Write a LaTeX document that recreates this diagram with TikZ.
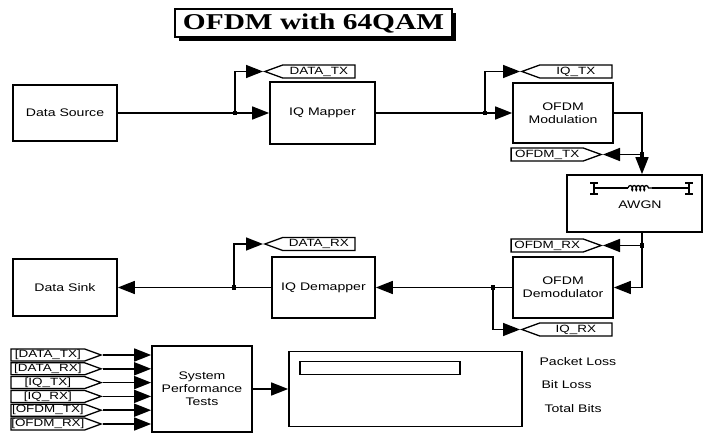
\documentclass[tikz,border=0pt]{standalone}
\usepackage{fontspec}
\setmainfont{Liberation Sans}[FakeStretch=1.28]
\newfontfamily\titlefont{Liberation Serif}[FakeStretch=1.3]
\usetikzlibrary{arrows.meta, shapes.symbols, shadows, decorations.pathmorphing}

\tikzset{
  block/.style={draw, line width=1.7pt, align=center, inner sep=0pt, font=\fontsize{11}{13}\selectfont},
  tag/.style={draw, signal, signal pointer angle=40, line width=1.3pt, minimum width=90pt, minimum height=13pt, inner sep=0pt, font=\fontsize{10.5}{11}\selectfont},
  sig/.style={line width=1.6pt, -{Triangle[length=17pt, width=13pt]}},
  wire/.style={line width=1.3pt},
  joint/.style={fill, minimum size=4.5pt, inner sep=0pt}
}

\begin{document}
\begin{tikzpicture}[x=1pt, y=-1pt]
\useasboundingbox (0,0) rectangle (704,435);

% title
\node[draw, line width=1.3pt, fill=white, minimum width=277pt, minimum height=28pt, inner sep=0pt,
  drop shadow={shadow xshift=4pt, shadow yshift=-4pt, fill=black, opacity=1},
  font=\titlefont\bfseries\fontsize{22.6}{24}\selectfont] (title) at (313.5,23) {OFDM with 64QAM};

% transmitter
\node[block, minimum width=104pt, minimum height=56pt] (src) at (65,113) {Data Source};
\node[block, minimum width=105pt, minimum height=62pt] (map) at (322.5,113) {IQ Mapper};
\node[block, minimum width=100pt, minimum height=60pt] (mod) at (563,113) {OFDM\\Modulation};

% channel
\node[block, minimum width=135pt, minimum height=57pt] (awgn) at (634.5,203.5) {};
\node[font=\fontsize{11}{13}\selectfont] (awgnlbl) at (640,205) {AWGN};
\draw[wire] (594,188) -- (628,188);
\draw[wire, decorate, decoration={coil, segment length=4pt, amplitude=2.5pt}] (628,188) -- (652,188);
\draw[wire] (652,188) -- (689,188);
\draw[wire] (590,183) -- (598,183) (594,183) -- (594,194) (590,194) -- (598,194);
\draw[wire] (685,183) -- (693,183) (689,183) -- (689,194) (685,194) -- (693,194);

% receiver
\node[block, minimum width=100pt, minimum height=61pt] (demod) at (563,287.5) {OFDM\\Demodulator};
\node[block, minimum width=103pt, minimum height=61pt] (demap) at (323.5,287.5) {IQ Demapper};
\node[block, minimum width=104pt, minimum height=57pt] (sink) at (65,287.5) {Data Sink};

% goto / from tags
\node[tag, signal to=west, anchor=west] (txdata) at (263,71.5) {DATA\_TX};
\node[tag, signal to=west, anchor=west] (txiq) at (520,71.5) {IQ\_TX};
\node[tag, signal to=east, anchor=east] (txofdm) at (603,154.5) {OFDM\_TX};
\node[tag, signal to=east, anchor=east] (rxofdm) at (603,245.5) {OFDM\_RX};
\node[tag, signal to=west, anchor=west] (rxiq) at (520,329.5) {IQ\_RX};
\node[tag, signal to=west, anchor=west] (rxdata) at (263,244) {DATA\_RX};

% signal lines
\coordinate (b1) at (235,113);
\coordinate (b2) at (485,113);
\coordinate (b3) at (642,154.5);
\coordinate (b4) at (642,245.5);
\coordinate (b5) at (493,287.5);
\coordinate (b6) at (234,287.5);

\draw[sig] (src.east) -- (map.west);
\draw[sig] (b1) |- (txdata.west);
\draw[sig] (map.east) -- (mod.west);
\draw[sig] (b2) |- (txiq.west);
\draw[sig] (mod.east) -| (b3 |- awgn.north);
\draw[sig] (b3) -- (txofdm.east);
\draw[sig] (b4 |- awgn.south) |- (demod.east);
\draw[sig] (b4) -- (rxofdm.east);
\draw[sig] (demod.west) -- (demap.east);
\draw[sig] (b5) |- (rxiq.west);
\draw[sig] (demap.west) -- (sink.east);
\draw[sig] (b6) |- (rxdata.west);

\foreach \b in {1,...,6}
  \node[joint] (j\b) at (b\b) {};

% performance tests
\node[block, minimum width=100pt, minimum height=86pt] (spt) at (202,389) {System\\Performance\\Tests};
\foreach \name [count=\i from 0] in {DATA\_TX, DATA\_RX, IQ\_TX, IQ\_RX, OFDM\_TX, OFDM\_RX} {
  \node[tag, signal to=east, anchor=east, minimum height=12pt] (in\i) at (103,{355+13.8*\i}) {[\name]};
  \draw[sig] (in\i.east) -- (in\i.east -| spt.west);
}

\node[block, minimum width=233pt, minimum height=75pt] (disp) at (405.5,389) {};
\node[draw, line width=1.5pt, minimum width=160pt, minimum height=13pt, inner sep=0pt, anchor=north west] (bar) at (299,361) {};
\draw[sig] (spt.east) -- (disp.west);

\node[anchor=west, font=\fontsize{11}{13}\selectfont] (pkt) at (536,362) {Packet Loss};
\node[anchor=west, font=\fontsize{11}{13}\selectfont] (bits) at (538,385) {Bit Loss};
\node[anchor=west, font=\fontsize{11}{13}\selectfont] (total) at (541,409) {Total Bits};
\end{tikzpicture}
\end{document}
